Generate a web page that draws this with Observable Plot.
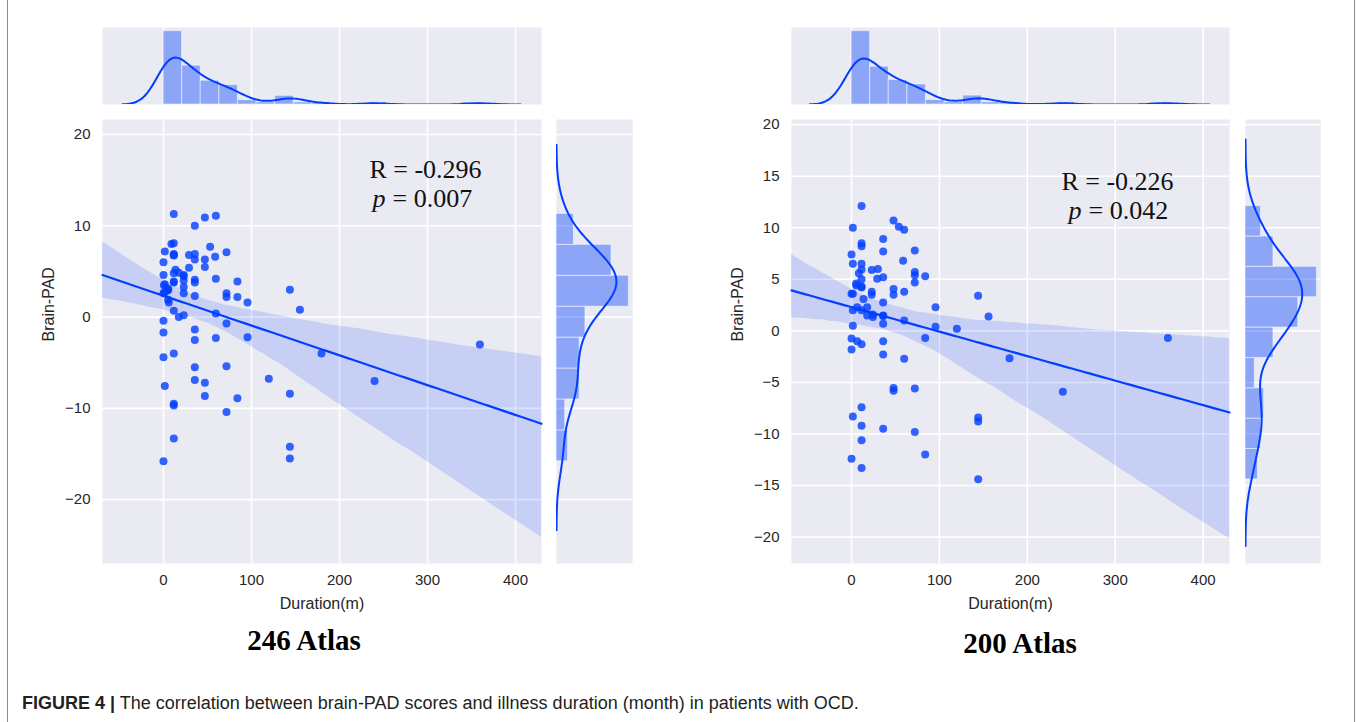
<!DOCTYPE html>
<html><head><meta charset="utf-8">
<script src="https://cdn.jsdelivr.net/npm/d3@7"></script>
<script src="https://cdn.jsdelivr.net/npm/@observablehq/plot@0.6"></script>
<style>
body{margin:0;background:#fff;}
#fig{position:relative;width:1358px;height:722px;overflow:hidden;font-family:"Liberation Sans",Arial,sans-serif;color:#262626;}
#fig > *{position:absolute;}
.title{font-family:"Liberation Serif","Times New Roman",serif;font-weight:bold;font-size:29px;line-height:29px;color:#000;text-align:center;width:400px;white-space:nowrap;}
.caption{font-size:18px;line-height:18px;color:#231f20;white-space:nowrap;}
.border{top:0;width:0;height:722px;border-left:1.5px solid #8a8a8a;}
</style></head><body><div id="fig"></div>
<script>
// ---------- data ----------
const duration246 = [11.7,47,59.5,35.6,9,11.7,1.5,53,71.6,11.7,11.7,29,35.6,35.6,47,58.7,0,47,29,13.6,17.4,11.7,0,23,23,11.7,35.6,35.6,59.5,84,1.5,0.5,5.5,4.5,23,23,0,71.6,71.6,84,35.6,95.5,5.3,6,143.6,155,11.7,59.5,17.4,23,0,0,35.6,71.6,59.5,95.5,35.6,11.7,0,179.5,359.5,35.6,71.6,119.7,239.8,35.6,47,1.5,47,84,143.6,11.7,11.7,71.6,11.7,143.6,143.6,0,11.7,23,5,11.7,1];
const pad246 = [11.3,10.9,11.1,10.0,8.0,8.1,7.2,7.7,7.1,6.9,6.75,6.8,6.9,6.3,6.3,6.6,6.0,5.5,5.4,5.2,4.85,4.8,4.6,4.5,4.0,3.9,4.1,3.8,4.2,3.9,3.6,3.5,3.0,2.9,3.3,2.6,2.6,2.6,2.2,2.2,2.3,1.6,1.9,1.6,3.0,0.8,0.7,0.4,0.0,0.2,-0.4,-1.7,-1.35,-0.7,-2.3,-2.2,-2.5,-4.0,-4.4,-4.0,-3.0,-5.5,-5.4,-6.75,-7.0,-6.9,-7.2,-7.55,-8.65,-8.9,-8.4,-9.5,-9.7,-10.4,-13.3,-14.2,-15.5,-15.8,6.8,4.6,3.1,3.8,2.7];
const duration200 = [11.4,1.5,47.8,53.8,59.9,36,11.4,11.4,36,72,0,58.7,1.5,11.4,23,30,11.4,8.3,72,72,72,83.8,36,29.2,11.4,5.3,5.3,11.4,47.8,59.9,23,23,47.8,0,1.5,144,13.6,36,95.6,1.5,6.4,17.8,17.8,24.3,24.3,36,155.9,59.9,36,1.5,95.6,119.8,0,6.4,11.4,359.9,83.8,36,0,36,179.7,59.9,47.8,47.8,72,240.4,144.1,144.1,11.4,1.5,11.4,36,72,11.4,0,83.8,11.4,144.1,11.4,11.4,36];
const pad200 = [12.1,10.0,10.7,10.1,9.8,8.9,8.5,8.2,7.7,7.8,7.4,6.8,6.5,6.5,5.9,6.0,5.95,5.6,5.7,5.4,4.7,5.3,5.2,5.05,5.0,4.6,4.4,4.2,4.05,3.8,3.8,3.5,3.5,3.6,3.6,3.4,3.1,2.75,2.3,2.0,2.3,2.3,1.5,1.6,1.35,1.45,1.4,1.0,0.7,0.5,0.4,0.2,-0.75,-1.0,-1.3,-0.7,-0.7,-1.0,-1.8,-2.3,-2.65,-2.7,-5.55,-5.8,-5.6,-5.9,-8.4,-8.8,-7.4,-8.3,-9.2,-9.5,-9.8,-10.6,-12.4,-12.0,-13.3,-14.4,4.3,2.0,1.5];
const xTicks = [0,100,200,300,400];
const yTicks246 = [-20,-10,0,10,20];
const yTicks200 = [-20,-15,-10,-5,0,5,10,15,20];
const xDomain246 = [-69.3,429.5], yDomain246 = [-27.0,21.65];
const xDomain200 = [-68.3,430.0], yDomain200 = [-22.56,20.5];
const rText246 = "R = -0.296", pText246 = "= 0.007";
const rText200 = "R = -0.226", pText200 = "= 0.042";
const xBins = 17, yBins246 = 8, yBins200 = 9;
const titles = ["246 Atlas","200 Atlas"];
const xLabel = "Duration(m)", yLabel = "Brain-PAD";
const captionBold = "FIGURE 4 |", captionText = " The correlation between brain-PAD scores and illness duration (month) in patients with OCD.";

// ---------- style ----------
const BLUE = "#023eff", BG = "#eaeaf2";
const FONT = "Liberation Sans, Arial, sans-serif";
const SERIF = "Liberation Serif, Times New Roman, serif";

// ---------- helpers (computed from the data) ----------
function kde(values, n = 200) {
  const N = values.length, sd = d3.deviation(values);
  const sorted = values.slice().sort(d3.ascending);
  const iqr = d3.quantileSorted(sorted, 0.75) - d3.quantileSorted(sorted, 0.25);
  const bw = 1.059 * Math.min(sd, iqr / 1.349) * Math.pow(N, -0.2);
  const lo = d3.min(values) - 3 * bw, hi = d3.max(values) + 3 * bw;
  const c = 1 / (N * bw * Math.sqrt(2 * Math.PI));
  return d3.range(n).map(i => {
    const v = lo + (hi - lo) * i / (n - 1);
    let s = 0; for (const x of values) { const z = (v - x) / bw; s += Math.exp(-0.5 * z * z); }
    return {v, d: s * c};
  });
}
function hist(values, nb) {
  const mn = d3.min(values), mx = d3.max(values), w = (mx - mn) / nb, N = values.length;
  const counts = new Array(nb).fill(0);
  for (const v of values) counts[Math.min(nb - 1, Math.floor((v - mn) / w + 1e-9))]++;
  return counts.map((c, i) => ({lo: mn + i * w, hi: mn + (i + 1) * w, d: c / (N * w), base: 0}));
}
function fitLine(xs, ys, idx) {
  let mx = 0, my = 0; const n = idx.length;
  for (const i of idx) { mx += xs[i]; my += ys[i]; } mx /= n; my /= n;
  let sxx = 0, sxy = 0;
  for (const i of idx) { sxx += (xs[i] - mx) ** 2; sxy += (xs[i] - mx) * (ys[i] - my); }
  const b = sxx > 0 ? sxy / sxx : 0; return {a: my - b * mx, b};
}
// least-squares line with a seaborn-style bootstrap 95% band (1000 resamples, fixed seed)
function regression(xs, ys, domain) {
  const n = xs.length, all = d3.range(n);
  const {a, b} = fitLine(xs, ys, all);
  const gx = d3.range(101).map(i => domain[0] + (domain[1] - domain[0]) * i / 100);
  const rand = d3.randomInt.source(d3.randomLcg(0.42))(n);
  const boots = gx.map(() => []);
  for (let k = 0; k < 1000; k++) {
    const idx = all.map(() => rand());
    const f = fitLine(xs, ys, idx);
    gx.forEach((x, j) => boots[j].push(f.a + f.b * x));
  }
  return gx.map((x, j) => {
    const s = boots[j].sort(d3.ascending);
    return {x, y: a + b * x, lo: d3.quantileSorted(s, 0.025), hi: d3.quantileSorted(s, 0.975)};
  });
}

const fig = document.getElementById("fig");
function place(el, left, top) { el.style.left = left + "px"; el.style.top = top + "px"; fig.appendChild(el); }

function joint(cfg) {
  const {xs, ys, xDomain, yDomain, yTicks, yBins, rText, pText, L, frameW, mlMain, rmLeft, rmW, ann} = cfg;
  const pts = xs.map((x, i) => ({x, y: ys[i]}));
  const fit = regression(xs, ys, xDomain);
  const hx = hist(xs, xBins), kx = kde(xs);
  const hy = hist(ys, yBins), ky = kde(ys);
  const maxX = Math.max(d3.max(hx, d => d.d), d3.max(kx, d => d.d)) * 1.05;
  const maxY = Math.max(d3.max(hy, d => d.d), d3.max(ky, d => d.d)) * 1.05;
  const fmt = d3.format("d");
  const style = {fontSize: "15px", fontFamily: FONT, color: "#262626", background: "transparent", overflow: "visible"};

  const main = Plot.plot({
    width: mlMain + frameW + 4, height: 520,
    marginLeft: mlMain, marginRight: 4, marginTop: 19, marginBottom: 57,
    x: {domain: xDomain, ticks: xTicks, tickSize: 0, tickPadding: 11, tickFormat: fmt, label: null},
    y: {domain: yDomain, ticks: yTicks, tickSize: 0, tickPadding: 12, tickFormat: fmt, label: null},
    style,
    marks: [
      Plot.frame({fill: BG, stroke: "none"}),
      Plot.ruleX(xTicks, {stroke: "white", strokeWidth: 1.6}),
      Plot.ruleY(yTicks, {stroke: "white", strokeWidth: 1.6}),
      Plot.dot(pts, {x: "x", y: "y", r: 4, fill: BLUE, fillOpacity: 0.8, stroke: "none"}),
      Plot.areaY(fit, {x: "x", y1: "lo", y2: "hi", fill: BLUE, fillOpacity: 0.15, clip: true}),
      Plot.line(fit, {x: "x", y: "y", stroke: BLUE, strokeWidth: 2.2}),
      Plot.text([rText], {text: d => d, frameAnchor: "top-left", dx: ann.rx, dy: ann.ry, textAnchor: "middle", fontSize: 26, fontFamily: SERIF, fill: "#111"}),
      Plot.text(["p"], {text: d => d, frameAnchor: "top-left", dx: ann.px, dy: ann.py, textAnchor: "end", fontSize: 26, fontFamily: SERIF, fontStyle: "italic", fill: "#111"}),
      Plot.text([pText], {text: d => d, frameAnchor: "top-left", dx: ann.px + 7, dy: ann.py, textAnchor: "start", fontSize: 26, fontFamily: SERIF, fill: "#111"}),
      Plot.text([xLabel], {text: d => d, frameAnchor: "bottom", dy: 45, fontSize: 16, fontFamily: FONT, fill: "#262626"}),
      Plot.text([yLabel], {text: d => d, frameAnchor: "left", dx: ann.ylab, rotate: -90, fontSize: 16, fontFamily: FONT, fill: "#262626"})
    ]
  });
  place(main, L, 100);

  const top = Plot.plot({
    width: mlMain + frameW + 4, height: 86,
    marginLeft: mlMain, marginRight: 4, marginTop: 7, marginBottom: 2,
    x: {domain: xDomain, axis: null}, y: {domain: [0, maxX], axis: null},
    style,
    marks: [
      Plot.frame({fill: BG, stroke: "none"}),
      Plot.ruleX(xTicks, {stroke: "white", strokeWidth: 1.6}),
      Plot.rect(hx, {x1: "lo", x2: "hi", y1: "base", y2: "d", fill: BLUE, fillOpacity: 0.4, stroke: "white", strokeOpacity: 0.5, strokeWidth: 1}),
      Plot.line(kx, {x: "v", y: "d", stroke: BLUE, strokeWidth: 2, clip: true})
    ]
  });
  place(top, L, 20);

  const right = Plot.plot({
    width: 6 + rmW + 2, height: 520,
    marginLeft: 6, marginRight: 2, marginTop: 19, marginBottom: 57,
    x: {domain: [0, maxY], axis: null}, y: {domain: yDomain, axis: null},
    style,
    marks: [
      Plot.frame({fill: BG, stroke: "none"}),
      Plot.ruleY(yTicks, {stroke: "white", strokeWidth: 1.6}),
      Plot.rect(hy, {y1: "lo", y2: "hi", x1: "base", x2: "d", fill: BLUE, fillOpacity: 0.4, stroke: "white", strokeOpacity: 0.5, strokeWidth: 1}),
      Plot.line(ky, {x: "d", y: "v", stroke: BLUE, strokeWidth: 2, clip: true})
    ]
  });
  place(right, rmLeft, 100);
}

joint({xs: duration246, ys: pad246, xDomain: xDomain246, yDomain: yDomain246, yTicks: yTicks246, yBins: yBins246,
  rText: rText246, pText: pText246, L: 0, frameW: 439, mlMain: 102, rmLeft: 550, rmW: 76,
  ann: {rx: 323, ry: 40, px: 283, py: 69, ylab: -54}});
joint({xs: duration200, ys: pad200, xDomain: xDomain200, yDomain: yDomain200, yTicks: yTicks200, yBins: yBins200,
  rText: rText200, pText: pText200, L: 690, frameW: 438, mlMain: 101, rmLeft: 1239, rmW: 75,
  ann: {rx: 326, ry: 52, px: 290, py: 81, ylab: -54}});

// titles, caption, border
const t1 = document.createElement("div"); t1.className = "title"; t1.textContent = titles[0]; place(t1, 304 - 200, 626);
const t2 = document.createElement("div"); t2.className = "title"; t2.textContent = titles[1]; place(t2, 1020 - 200, 629);
const cap = document.createElement("div"); cap.className = "caption";
const b = document.createElement("b"); b.textContent = captionBold; cap.appendChild(b);
cap.appendChild(document.createTextNode(captionText));
place(cap, 22, 694);
const bl = document.createElement("div"); bl.className = "border"; place(bl, 7, 0);
const br = document.createElement("div"); br.className = "border"; place(br, 1354, 0);
</script></body></html>
